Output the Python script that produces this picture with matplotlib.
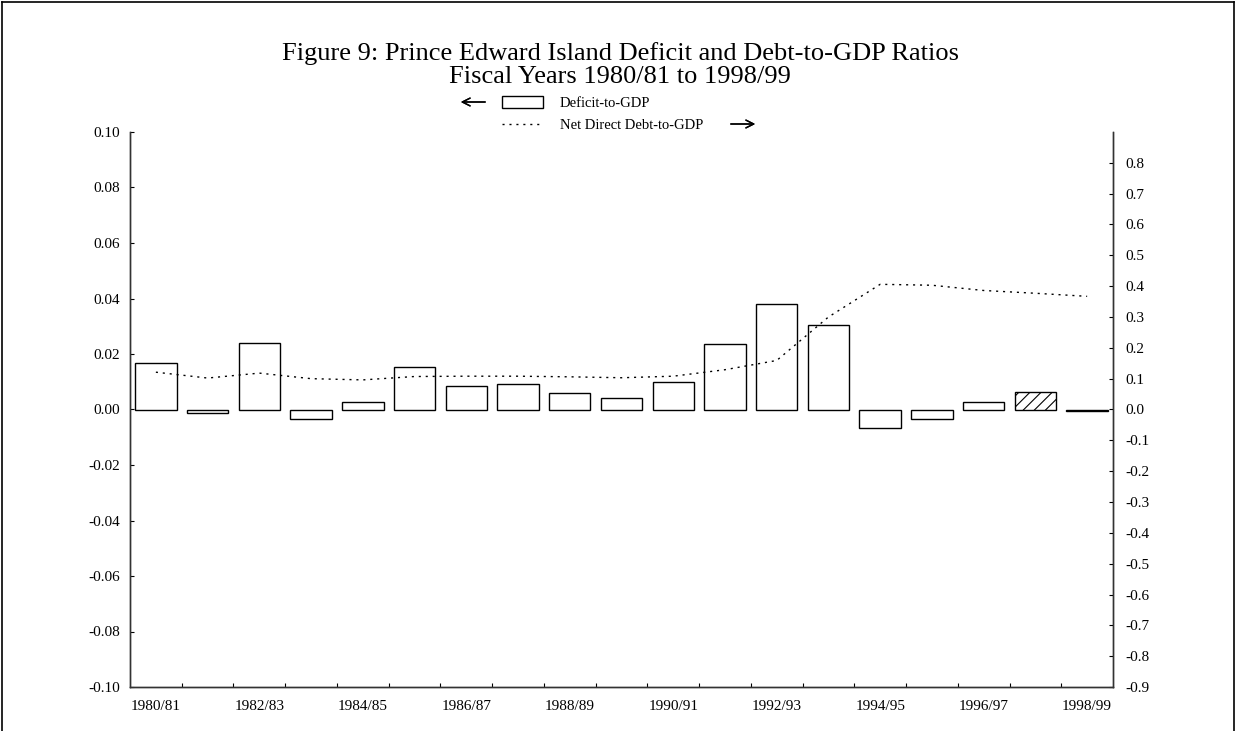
import numpy as np
import matplotlib
matplotlib.use('Agg')
import matplotlib.pyplot as plt
from matplotlib.patches import Patch
from matplotlib.lines import Line2D
from matplotlib.ticker import FixedLocator, FuncFormatter

plt.rcParams['font.family'] = ['Liberation Serif', 'DejaVu Serif']
plt.rcParams['axes.unicode_minus'] = False
plt.rcParams['hatch.linewidth'] = 0.8

years = ['1980/81', '1981/82', '1982/83', '1983/84', '1984/85', '1985/86',
         '1986/87', '1987/88', '1988/89', '1989/90', '1990/91', '1991/92',
         '1992/93', '1993/94', '1994/95', '1995/96', '1996/97', '1997/98',
         '1998/99']
deficit = [0.0166, -0.0012, 0.0241, -0.0034, 0.0028, 0.0154, 0.0084, 0.0091,
           0.0061, 0.0042, 0.0100, 0.0237, 0.0380, 0.0305, -0.0067, -0.0035,
           0.0027, 0.0062, -0.0004]
debt = [0.121, 0.102, 0.118, 0.100, 0.096, 0.107, 0.108, 0.108, 0.106, 0.103,
        0.108, 0.129, 0.159, 0.300, 0.406, 0.403, 0.386, 0.377, 0.367]
hatched = [False]*17 + [True, False]

W, H = 1236, 731
fig = plt.figure(figsize=(W/100, H/100), dpi=100)
ax = fig.add_axes([130/W, 1-687/H, (1113-130)/W, (687-132)/H])
bx = ax.twinx()

x = np.arange(len(years))
bars = ax.bar(x, deficit, width=0.8, color='white', edgecolor='black', linewidth=1.0)
for b, h in zip(bars, hatched):
    if h:
        b.set_hatch('///')
bx.plot(x, debt, color='black', linestyle=(0, (1.5, 3.5)), linewidth=1.0)

ax.set_xlim(-0.5, len(years)-0.5)
ax.set_ylim(-0.1, 0.1)
bx.set_ylim(-0.9, 0.9)

ax.set_yticks(np.arange(-0.10, 0.101, 0.02))
ax.yaxis.set_major_formatter(FuncFormatter(lambda v, p: '%.2f' % (0.0 if abs(v) < 1e-9 else v)))
bx.set_yticks(np.round(np.arange(-0.9, 0.81, 0.1), 1))
bx.yaxis.set_major_formatter(FuncFormatter(lambda v, p: '%.1f' % (0.0 if abs(v) < 1e-9 else v)))

ax.set_xticks(x[::2])
ax.set_xticklabels(years[::2])
ax.xaxis.set_minor_locator(FixedLocator(x[:-1] + 0.5))

for a in (ax, bx):
    a.spines['top'].set_visible(False)
    for s in a.spines.values():
        s.set_linewidth(1.0)
        s.set_color('#333333')
ax.tick_params(axis='x', which='major', length=0, pad=9, labelsize=11)
ax.tick_params(axis='x', which='minor', direction='in', length=3, width=0.8)
ax.tick_params(axis='y', direction='in', length=3, width=0.8, pad=7, labelsize=11)
bx.tick_params(axis='y', direction='in', length=3, width=0.8, pad=9, labelsize=11)

fig.text(620/W, 1-60/H, 'Figure 9: Prince Edward Island Deficit and Debt-to-GDP Ratios',
         ha='center', va='baseline', fontsize=19)
fig.text(620/W, 1-83/H, 'Fiscal Years 1980/81 to 1998/99',
         ha='center', va='baseline', fontsize=19)

handles = [Patch(facecolor='white', edgecolor='black', linewidth=1.0),
           Line2D([], [], color='black', linestyle=(0, (1.5, 3.5)), linewidth=1.0)]
fig.legend(handles, ['Deficit-to-GDP', 'Net Direct Debt-to-GDP'],
           loc='upper left', bbox_to_anchor=(502/W, 1-96/H), frameon=False,
           fontsize=10.5, handlelength=2.8, handleheight=0.85, handletextpad=1.15,
           labelspacing=0.6, borderpad=0, borderaxespad=0)
fig.add_artist(plt.annotate('', xy=(458/W, 1-102/H), xytext=(488/W, 1-102/H),
                            xycoords='figure fraction',
                            arrowprops=dict(arrowstyle='->', lw=1.0, color='black',
                                            mutation_scale=14)))
fig.add_artist(plt.annotate('', xy=(758/W, 1-124/H), xytext=(728/W, 1-124/H),
                            xycoords='figure fraction',
                            arrowprops=dict(arrowstyle='->', lw=1.0, color='black',
                                            mutation_scale=14)))

# page frame
for xs, ys in [([2/W, 2/W], [0, 1-2/H]), ([2/W, 1-2/W], [1-2/H, 1-2/H]),
               ([1-2/W, 1-2/W], [0, 1-2/H])]:
    fig.add_artist(Line2D(xs, ys, color='black', linewidth=1.2, transform=fig.transFigure))

fig.savefig('out.png', dpi=100)
